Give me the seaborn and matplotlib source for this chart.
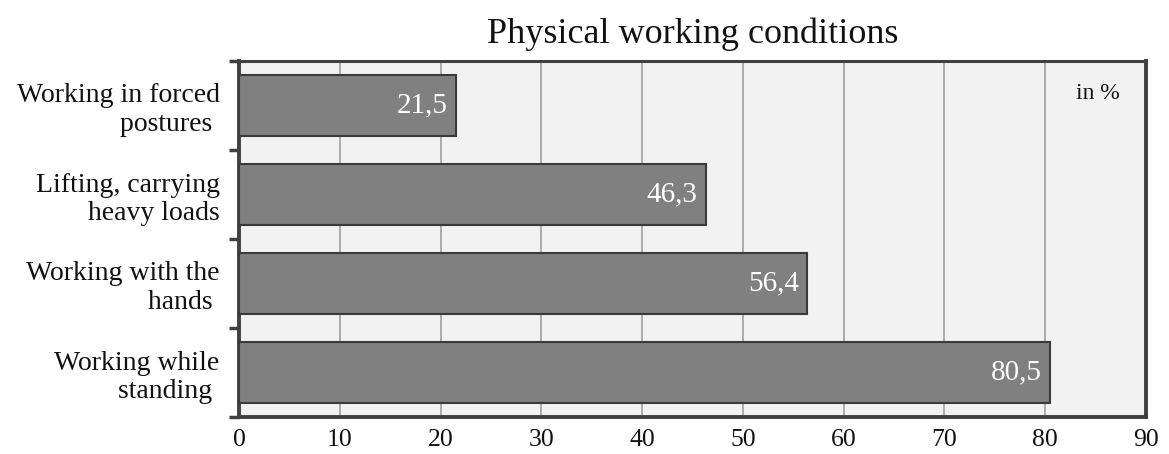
import matplotlib
matplotlib.use("Agg")
import matplotlib.pyplot as plt
import seaborn as sns
import pandas as pd

# Survey shares of workers exposed to each physical condition (%)
categories = [
    "Working in forced\npostures ",
    "Lifting, carrying\nheavy loads",
    "Working with the\nhands ",
    "Working while\nstanding ",
]
values = [21.5, 46.3, 56.4, 80.5]
value_labels = ["21,5", "46,3", "56,4", "80,5"]
x_ticks = [0, 10, 20, 30, 40, 50, 60, 70, 80, 90]

df = pd.DataFrame({"condition": categories, "share": values})

sns.set_theme(style="white")
plt.rcParams["font.family"] = ["Liberation Serif", "DejaVu Serif"]

fig = plt.figure(figsize=(11.69, 4.54), dpi=100)
ax = fig.add_axes([239 / 1169, 1 - 417 / 454, (1146 - 239) / 1169, (417 - 61) / 454])
ax.set_facecolor("#f2f2f2")

sns.barplot(data=df, x="share", y="condition", orient="h", ax=ax,
            color="#808080", saturation=1, width=0.675,
            edgecolor="#3a3a3a", linewidth=1.5, zorder=3)

ax.set_xlim(0, 90)
ax.set_ylim(3.5, -0.5)
ax.set_xticks(x_ticks)
ax.set_xticklabels([str(t) for t in x_ticks], fontsize=18.5, color="#111111")
ax.tick_params(axis="x", length=0, pad=9)

# category boundaries get tick marks, labels sit at the bar centres
ax.set_yticks([-0.5, 0.5, 1.5, 2.5, 3.5])
ax.set_yticklabels([])
ax.tick_params(axis="y", which="major", direction="out", length=7, width=2.5,
               color="#404040", left=True)
ax.set_yticks(range(len(categories)), minor=True)
ax.set_yticklabels(categories, minor=True, fontsize=20, color="#111111",
                   linespacing=1.2, ha="right")
ax.tick_params(axis="y", which="minor", length=0, pad=14)

ax.xaxis.grid(True, color="#a6a6a6", linewidth=1.3, zorder=0)
ax.yaxis.grid(False)
ax.set_axisbelow(True)

for side, lw in (("left", 2.8), ("bottom", 2.8), ("top", 2.2), ("right", 2.8)):
    ax.spines[side].set_visible(True)
    ax.spines[side].set_color("#404040")
    ax.spines[side].set_linewidth(lw)

ax.set_xlabel("")
ax.set_ylabel("")

for i, (v, lab) in enumerate(zip(values, value_labels)):
    ax.text(v - 0.8, i, lab, ha="right", va="center", color="white",
            fontsize=21, zorder=4)

ax.text(0.947, 0.91, "in %", transform=ax.transAxes, ha="center", va="center",
        fontsize=17, color="#111111")

ax.set_title("Physical working conditions", fontsize=26, color="#111111", pad=13)

fig.savefig("out.png", dpi=100)
